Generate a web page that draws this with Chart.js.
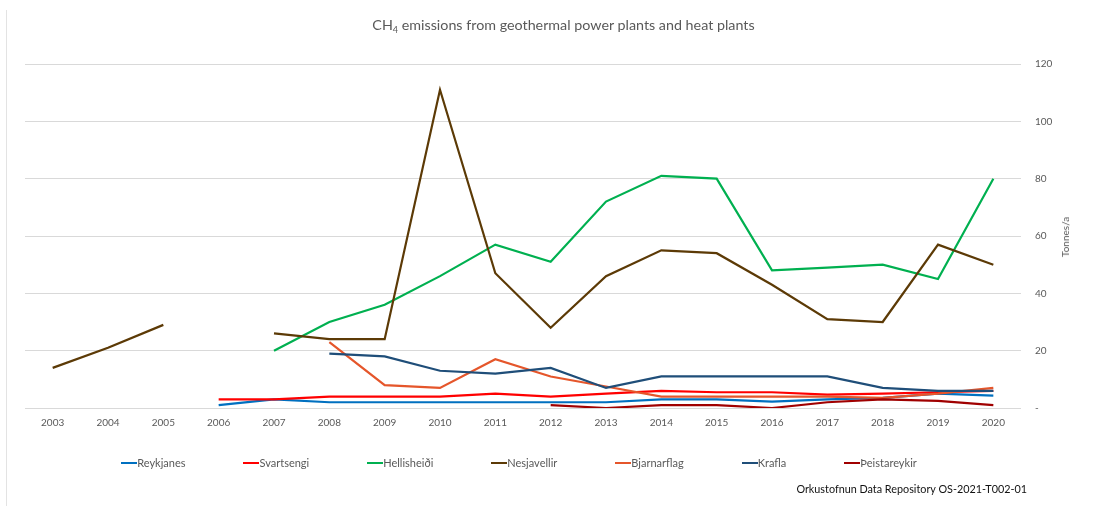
<!DOCTYPE html>
<html>
<head>
<meta charset="utf-8">
<script src="https://cdn.jsdelivr.net/npm/chart.js@4.4.1/dist/chart.umd.min.js"></script>
<style>
  html, body { margin: 0; padding: 0; background: #fff; }
  body { width: 1108px; height: 506px; position: relative; overflow: hidden; font-family: Lato, "Open Sans", sans-serif; }
  #wrap { position: absolute; left: 0; top: 0; width: 1108px; height: 506px; }
  #frame { position: absolute; left: 6px; top: 10px; width: 1px; height: 496px; background: #e3e3e3; }
  #title { position: absolute; left: 0; width: 1127px; top: 16px; text-align: center; font-size: 14.3px; color: #595959; }
  #title sub { font-size: 9px; vertical-align: -3px; line-height: 0; }
  #ytitle { position: absolute; left: 1065px; top: 237px; transform: translate(-50%, -50%) rotate(-90deg); font-size: 10px; color: #595959; white-space: nowrap; }
  #legend { position: absolute; left: 21px; width: 996px; top: 456px; display: flex; justify-content: center; gap: 58px; font-size: 11px; color: #595959; }
  .li { display: flex; align-items: center; white-space: nowrap; }
  .li i { display: inline-block; width: 16px; height: 2px; margin-right: 0; }
  #source { position: absolute; right: 81px; top: 482px; font-size: 10.8px; color: #111; }
</style>
</head>
<body>
<div id="wrap"><canvas id="c" width="1108" height="506"></canvas></div>
<div id="frame"></div>
<div id="title">CH<sub>4</sub> emissions from geothermal power plants and heat plants</div>
<div id="ytitle">Tonnes/a</div>
<div id="legend"></div>
<div id="source">Orkustofnun Data Repository OS-2021-T002-01</div>
<script>
const years = ['2003','2004','2005','2006','2007','2008','2009','2010','2011','2012','2013','2014','2015','2016','2017','2018','2019','2020'];

const reykjanes    = [null, null, null, 1, 3, 2, 2, 2, 2, 2, 2, 3, 3, 2.2, 3, 3.5, 5, 4.3];
const svartsengi   = [null, null, null, 3, 3, 4, 4, 4, 5, 4, 5, 6, 5.5, 5.5, 4.7, 5, 5.5, 6];
const hellisheidi  = [null, null, null, null, 20, 30, 36, 46, 57, 51, 72, 81, 80, 48, 49, 50, 45, 80];
const nesjavellir  = [14, 21, 29, null, 26, 24, 24, 111, 47, 28, 46, 55, 54, 43, 31, 30, 57, 50];
const bjarnarflag  = [null, null, null, null, null, 23, 8, 7, 17, 11, 7.5, 4, 4, 4, 4, 3.5, 5, 7];
const krafla       = [null, null, null, null, null, 19, 18, 13, 12, 14, 7, 11, 11, 11, 11, 7, 6, 6];
const theistareykir= [null, null, null, null, null, null, null, null, null, 1, 0, 1, 1, 0, 2, 3, 2.5, 1];

const yTicks = [0, 20, 40, 60, 80, 100, 120];

const seriesNames  = ['Reykjanes', 'Svartsengi', 'Hellisheiði', 'Nesjavellir', 'Bjarnarflag', 'Krafla', 'Þeistareykir'];
const seriesData   = [reykjanes, svartsengi, hellisheidi, nesjavellir, bjarnarflag, krafla, theistareykir];
const seriesColors = ['#0070C0', '#FF0000', '#00B050', '#5C3A06', '#E5562B', '#1F4E79', '#A00000'];

const datasets = seriesNames.map((name, i) => ({
  label: name,
  data: seriesData[i],
  borderColor: seriesColors[i],
  backgroundColor: seriesColors[i],
  borderWidth: 2.2,
  pointRadius: 0,
  pointHoverRadius: 0,
  tension: 0,
  spanGaps: false,
  fill: false,
  order: seriesNames.length - i
}));

// HTML legend built from the same arrays
const legendEl = document.getElementById('legend');
seriesNames.forEach((name, i) => {
  const d = document.createElement('div');
  d.className = 'li';
  const sw = document.createElement('i');
  sw.style.background = seriesColors[i];
  d.appendChild(sw);
  d.appendChild(document.createTextNode(name));
  legendEl.appendChild(d);
});

new Chart(document.getElementById('c'), {
  type: 'line',
  data: { labels: years, datasets },
  options: {
    responsive: false,
    animation: false,
    events: [],
    layout: { padding: { left: 25, top: 64, right: 47, bottom: 68 } },
    plugins: { legend: { display: false }, title: { display: false }, tooltip: { enabled: false } },
    scales: {
      x: {
        type: 'category',
        offset: true,
        grid: { display: false, drawTicks: false },
        border: { display: false },
        ticks: { color: '#595959', font: { family: 'Lato', size: 10 }, padding: 9, maxRotation: 0, autoSkip: false },
        afterFit: (s) => { s.height = 30; }
      },
      y: {
        position: 'right',
        min: 0,
        max: 120,
        afterBuildTicks: (s) => { s.ticks = yTicks.map(v => ({ value: v })); },
        grid: { color: '#d9d9d9', lineWidth: 1, drawTicks: false },
        border: { display: false },
        ticks: {
          color: '#595959',
          font: { family: 'Lato', size: 10 },
          padding: 14,
          callback: (v) => v === 0 ? '-' : String(v)
        },
        afterFit: (s) => { s.width = 40; }
      }
    }
  }
});
</script>
</body>
</html>
